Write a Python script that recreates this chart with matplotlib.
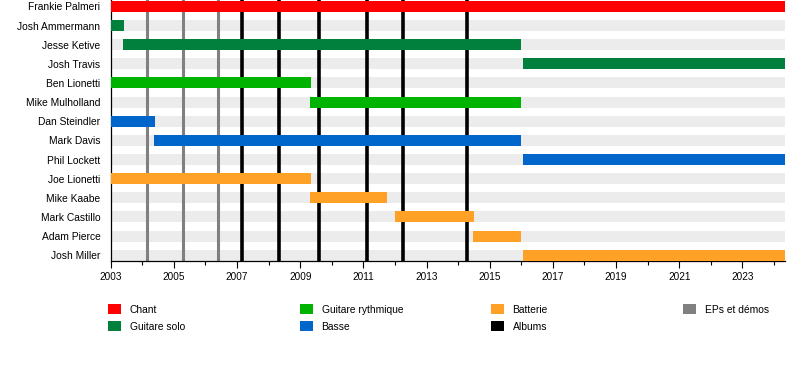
import matplotlib
matplotlib.use("Agg")
import matplotlib.pyplot as plt
from matplotlib.patches import Patch
from matplotlib.ticker import MultipleLocator

plt.rcParams['font.family'] = ['Liberation Sans', 'DejaVu Sans']

START = 2003.0
END = 2024.35

members = ["Frankie Palmeri", "Josh Ammermann", "Jesse Ketive", "Josh Travis",
           "Ben Lionetti", "Mike Mulholland", "Dan Steindler", "Mark Davis",
           "Phil Lockett", "Joe Lionetti", "Mike Kaabe", "Mark Castillo",
           "Adam Pierce", "Josh Miller"]
roles = ["Chant", "Guitare solo", "Guitare solo", "Guitare solo",
         "Guitare rythmique", "Guitare rythmique", "Basse", "Basse",
         "Basse", "Batterie", "Batterie", "Batterie",
         "Batterie", "Batterie"]
starts = [2003.0, 2003.0, 2003.40, 2016.06,
          2003.0, 2009.31, 2003.0, 2004.37,
          2016.06, 2003.0, 2009.31, 2012.0,
          2014.48, 2016.06]
ends = [END, 2003.42, 2016.0, END,
        2009.33, 2016.0, 2004.40, 2016.0,
        END, 2009.33, 2011.74, 2014.51,
        2016.0, END]

ep_dates = [2004.14, 2005.30, 2006.41]
album_dates = [2007.15, 2008.34, 2009.61, 2011.13, 2012.27, 2014.29]

role_colors = {
    "Chant": "#ff0000",
    "Guitare solo": "#00803c",
    "Guitare rythmique": "#00b300",
    "Basse": "#0066cc",
    "Batterie": "#ffa126",
}
ep_color = "#808080"
album_color = "#000000"

fig = plt.figure(figsize=(8, 3.8), dpi=100)
ax = fig.add_axes([110.7 / 800, 119.3 / 380, (785 - 110.7) / 800, 260.7 / 380])

n = len(members)
ypos = [n - 1 - i for i in range(n)]
bh = 0.575

# background bands
ax.barh(ypos, [END - START] * n, left=START, height=bh, color="#ececec", zorder=1)

for d in ep_dates:
    ax.axvline(d, color=ep_color, lw=2.2, zorder=2)
for d in album_dates:
    ax.axvline(d, color=album_color, lw=2.6, zorder=2)

for y, r, s, e in zip(ypos, roles, starts, ends):
    ax.barh(y, e - s, left=s, height=bh, color=role_colors[r], zorder=3)

ax.set_xlim(START, END)
ax.set_ylim(-bh / 2, n - 1 + 0.335)
ax.set_yticks(ypos)
ax.set_yticklabels(members, fontsize=7.4)
ax.tick_params(axis='y', length=0, pad=7.5)
ax.xaxis.set_minor_locator(MultipleLocator(1))
ax.set_xticks(range(2003, 2025, 2))
ax.set_xticklabels([str(y) for y in range(2003, 2025, 2)], fontsize=7.2)
ax.tick_params(axis='x', which='major', length=5, width=0.8, pad=3)
ax.tick_params(axis='x', which='minor', length=3, width=0.8)
for side in ("top", "right"):
    ax.spines[side].set_visible(False)
ax.spines["left"].set_linewidth(0.9)
ax.spines["bottom"].set_linewidth(0.9)

columns = [
    [("Chant", role_colors["Chant"]), ("Guitare solo", role_colors["Guitare solo"])],
    [("Guitare rythmique", role_colors["Guitare rythmique"]), ("Basse", role_colors["Basse"])],
    [("Batterie", role_colors["Batterie"]), ("Albums", album_color)],
    [("EPs et démos", ep_color)],
]
col_x = [108, 300, 491, 683]
for cx, col in zip(col_x, columns):
    handles = [Patch(facecolor=c, edgecolor='none') for _, c in col]
    labels = [l for l, _ in col]
    fig.legend(handles, labels, loc='upper left',
               bbox_to_anchor=(cx / 800, (380 - 304) / 380),
               frameon=False, fontsize=7.4, borderpad=0, borderaxespad=0,
               handlelength=1.25, handleheight=1.15, handletextpad=0.85,
               labelspacing=0.65)

fig.savefig("out.png", dpi=100)
